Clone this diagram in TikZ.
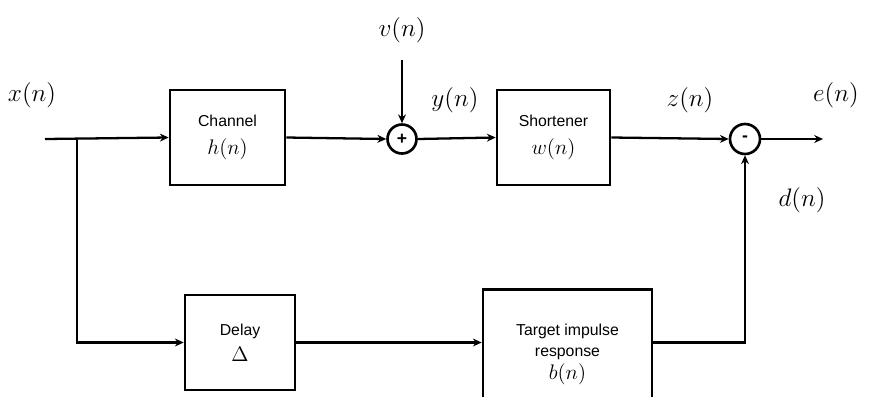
\documentclass[tikz,border=0pt]{standalone}
\usepackage{fontspec}
\setsansfont{Liberation Sans}
\usetikzlibrary{arrows.meta}
\begin{document}
\begin{tikzpicture}[x=0.02cm,y=-0.02cm,
    block/.style={draw,line width=1.5pt,inner sep=0pt,align=center,font=\sffamily\fontsize{9}{13}\selectfont},
    sumnode/.style={draw,circle,line width=1.5pt,minimum size=0.58cm,inner sep=0pt,font=\sffamily\bfseries\fontsize{10}{10}\selectfont},
    sig/.style={font=\fontsize{13.5}{16}\selectfont},
    wire/.style={line width=1.3pt},
    flow/.style={wire,-{Stealth[length=5pt,width=4.5pt]}}]
    \clip (0,0) rectangle (874,396);
    % blocks
    \node[block,minimum width=2.3cm,minimum height=1.9cm] (chan) at (227.5,137.5) {Channel\\[3pt]{\fontsize{13}{15}\selectfont$h(n)$}};
    \node[sumnode] (sum) at (402,139) {+};
    \node[block,minimum width=2.26cm,minimum height=1.9cm] (short) at (553.5,137.5) {Shortener\\[3pt]{\fontsize{13}{15}\selectfont$w(n)$}};
    \node[sumnode,minimum size=0.6cm] (diff) at (745,139) {-};
    \node[block,minimum width=2.2cm,minimum height=1.9cm] (delay) at (240,342.5) {Delay\\[2pt]{\fontsize{13}{15}\selectfont$\Delta$}};
    \node[block,anchor=north,minimum width=3.38cm,minimum height=2.64cm] (target) at (567.5,288) {};
    \node[align=center,font=\sffamily\fontsize{9}{12}\selectfont] (targettxt) at (567.5,354) {Target impulse\\response\\[1pt]{\fontsize{13}{15}\selectfont$b(n)$}};
    % signal labels
    \node[sig] (xlbl) at (32,95) {$x(n)$};
    \node[sig] (vlbl) at (402,30) {$v(n)$};
    \node[sig] (ylbl) at (455,100) {$y(n)$};
    \node[sig] (zlbl) at (690,100) {$z(n)$};
    \node[sig] (elbl) at (836,95) {$e(n)$};
    \node[sig] (dlbl) at (802,200) {$d(n)$};
    % connectors
    \coordinate (xin) at (45,139);
    \coordinate (br) at (77,139);
    \coordinate (vin) at (402,60);
    \coordinate (eout) at (823,139);
    \draw[flow] (xin) -- (chan.west);
    \draw[flow] (br) |- (delay.west);
    \draw[flow] (chan.east) -- (sum.west);
    \draw[flow] (vin) -- (sum.north);
    \draw[flow] (sum.east) -- (short.west);
    \draw[flow] (short.east) -- (diff.west);
    \draw[flow] (delay.east) -- (delay.east -| target.west);
    \draw[flow] (target.east |- delay.east) -| (diff.south);
    \draw[flow] (diff.east) -- (eout);
\end{tikzpicture}
\end{document}
